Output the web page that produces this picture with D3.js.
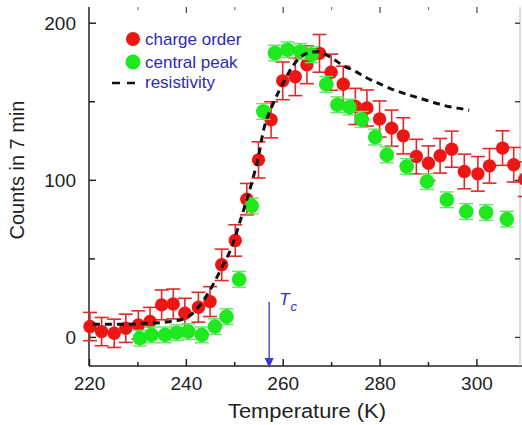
<!DOCTYPE html>
<html>
<head>
<meta charset="utf-8">
<script src="https://cdn.jsdelivr.net/npm/d3@7"></script>
<style>
  html, body { margin: 0; padding: 0; background: #fff; }
  svg { display: block; }
  text { font-family: "Liberation Sans", Arial, Helvetica, sans-serif; }
</style>
</head>
<body>
<svg id="chart" width="522" height="425"></svg>
<script>
// ---- data ----
const chargeT   = [220.2,222.6,225.2,227.6,230.2,232.6,235.0,237.4,239.8,242.6,245.0,247.4,250.2,252.6,255.0,257.6,260.0,262.6,265.0,267.6,270.0,272.5,275.0,277.4,280.0,282.5,284.9,287.6,290.1,292.5,294.9,297.5,300.3,302.7,305.4,307.7,310.0];
const chargeV   = [6.6,3.4,2.3,5.5,7.6,9.8,20.4,21,15.1,18.9,22.5,45.9,61.4,87.7,112.7,138.2,163,165.6,173.2,180.5,168.5,160.8,146.7,145.7,138.7,132.9,128,114.8,110.6,115.3,119.5,105.3,103.8,108.9,120.2,109.6,100.4];
const chargeErr = [9,9,9,9,9,9,9.5,9.5,9.5,9.5,9.5,10,10,10,11.5,11.5,12,12,12,12,11.5,11.5,11.5,11.5,11.5,11.5,11.5,11,11,11,11.5,11,11,11,11,11,11];

const centralT   = [230.5,232.9,235.7,238.1,240.5,243.3,246.0,248.4,251.0,253.6,256.0,258.4,261.0,263.6,266.0,269.0,271.3,273.8,276.3,279.1,281.5,285.6,289.8,293.9,297.9,302.0,306.3];
const centralV   = [-0.8,1.3,1.3,2.7,3.4,1.3,6.6,12.9,36.7,83.4,143.5,180.7,182.8,181.7,179.6,160.8,147.8,146.3,138.5,127.2,115.9,108.5,98.9,87.3,79.8,79.2,75];
const centralErr = 5;

const resistT = [220.8,226,231,236,240,242.6,245,247.4,249.5,251.5,253.6,255,256,258.1,260.1,262.2,264.6,267,269.8,272.2,275,277.4,280.5,282.9,286,288.7,291.5,294.2,297.3,298.5];
const resistV = [8,8,8.5,9.5,12,19,30,44,57.5,76.6,98,115,131,149,161.6,173,180,181.5,178.2,173.2,169,164.8,160.5,157.3,154.1,151.6,148.9,146.7,145,144.3];

const xMajor = [220,240,260,280,300];
const xMinor = [230,250,270,290];
const yMajor = [0,100,200];
const yMinor = [50,150];
const legendLabels = ["charge order","central peak","resistivity"];
const Tc = 257.2;
const xTitle = "Temperature (K)";
const yTitle = "Counts in 7 min";

// ---- scales ----
const svg = d3.select("#chart");
const x = d3.scaleLinear().domain([220, 309]).range([89, 520]);
const y = d3.scaleLinear().domain([-18.5, 210]).range([366, 7]);
const axisColor = "#222";
const red = "#ee1515", redBar = "#e02a2a", green = "#1ee81e", legendBlue = "#2b2bb8";

// ---- axes ----
const g = svg.append("g");
g.append("line").attr("x1", x(220)).attr("x2", 522).attr("y1", y(-18.5)).attr("y2", y(-18.5))
  .attr("stroke", axisColor).attr("stroke-width", 1.5);
g.append("line").attr("x1", x(220)).attr("x2", x(220)).attr("y1", y(210)).attr("y2", y(-18.5))
  .attr("stroke", axisColor).attr("stroke-width", 1.5);
g.append("line").attr("x1", x(309)).attr("x2", x(309)).attr("y1", y(210)).attr("y2", y(-18.5))
  .attr("stroke", "#bbb").attr("stroke-width", 1);

const bottomAxis = d3.axisBottom(x).tickValues(xMajor).tickSize(-7).tickPadding(11).tickFormat(d3.format("d"));
const bAx = svg.append("g").attr("transform", `translate(0,${y(-18.5)})`).call(bottomAxis);
bAx.select(".domain").remove();
bAx.selectAll("line").attr("stroke", axisColor).attr("stroke-width", 1.5);
bAx.selectAll("text").attr("font-size", 19).attr("fill", "#222").attr("font-family", "Liberation Sans, Arial, sans-serif");

const bMin = d3.axisBottom(x).tickValues(xMinor).tickSize(-4).tickFormat("");
const bmAx = svg.append("g").attr("transform", `translate(0,${y(-18.5)})`).call(bMin);
bmAx.select(".domain").remove();
bmAx.selectAll("line").attr("stroke", axisColor).attr("stroke-width", 1.5);

const tAx = svg.append("g").attr("transform", `translate(0,${y(210)})`)
  .call(d3.axisTop(x).tickValues(xMajor.filter(d => d > 220)).tickSize(-6).tickFormat(""));
tAx.select(".domain").remove();
tAx.selectAll("line").attr("stroke", "#555").attr("stroke-width", 1.3);
const tmAx = svg.append("g").attr("transform", `translate(0,${y(210)})`)
  .call(d3.axisTop(x).tickValues(xMinor).tickSize(-3).tickFormat(""));
tmAx.select(".domain").remove();
tmAx.selectAll("line").attr("stroke", "#777").attr("stroke-width", 1.2);

const lAx = svg.append("g").attr("transform", `translate(${x(220)},0)`)
  .call(d3.axisLeft(y).tickValues(yMajor).tickSize(-7).tickPadding(13).tickFormat(d3.format("d")));
lAx.select(".domain").remove();
lAx.selectAll("line").attr("stroke", axisColor).attr("stroke-width", 1.5);
lAx.selectAll("text").attr("font-size", 19).attr("fill", "#222").attr("font-family", "Liberation Sans, Arial, sans-serif").attr("dy", "0.36em");
const lmAx = svg.append("g").attr("transform", `translate(${x(220)},0)`)
  .call(d3.axisLeft(y).tickValues(yMinor).tickSize(-6).tickFormat(""));
lmAx.select(".domain").remove();
lmAx.selectAll("line").attr("stroke", axisColor).attr("stroke-width", 1.5);

const rAx = svg.append("g").attr("transform", `translate(${x(309)},0)`)
  .call(d3.axisRight(y).tickValues([0,50,100,150,200]).tickSize(-5).tickFormat(""));
rAx.select(".domain").remove();
rAx.selectAll("line").attr("stroke", "#333").attr("stroke-width", 1.3);

svg.append("text").attr("x", 307).attr("y", 418).attr("text-anchor", "middle")
  .attr("font-size", 20).attr("fill", "#222").attr("textLength", 158).attr("lengthAdjust", "spacingAndGlyphs").text(xTitle);
svg.append("text").attr("transform", "translate(24,170) rotate(-90)").attr("text-anchor", "middle")
  .attr("font-size", 20).attr("fill", "#222").text(yTitle);

// ---- data marks ----
const chargeData = chargeT.map((t, i) => ({t, v: chargeV[i], e: chargeErr[i]}));
const centralData = centralT.map((t, i) => ({t, v: centralV[i], e: centralErr}));

function errorBars(data, color, capW, sw) {
  const eg = svg.append("g").attr("stroke", color).attr("stroke-width", sw).attr("fill", "none");
  eg.selectAll(".v").data(data).join("line")
    .attr("x1", d => x(d.t)).attr("x2", d => x(d.t))
    .attr("y1", d => y(d.v - d.e)).attr("y2", d => y(d.v + d.e));
  eg.selectAll(".t").data(data).join("line")
    .attr("x1", d => x(d.t) - capW).attr("x2", d => x(d.t) + capW)
    .attr("y1", d => y(d.v + d.e)).attr("y2", d => y(d.v + d.e));
  eg.selectAll(".b").data(data).join("line")
    .attr("x1", d => x(d.t) - capW).attr("x2", d => x(d.t) + capW)
    .attr("y1", d => y(d.v - d.e)).attr("y2", d => y(d.v - d.e));
}

errorBars(chargeData, redBar, 7, 1.6);
svg.append("g").selectAll("circle").data(chargeData).join("circle")
  .attr("cx", d => x(d.t)).attr("cy", d => y(d.v)).attr("r", 6.7).attr("fill", red);

errorBars(centralData, "#5ee85e", 7, 1.4);
svg.append("g").selectAll("circle").data(centralData).join("circle")
  .attr("cx", d => x(d.t)).attr("cy", d => y(d.v)).attr("r", 7.3).attr("fill", green);

const resData = resistT.map((t, i) => ({t, v: resistV[i]}));
svg.append("path").datum(resData)
  .attr("d", d3.line().x(d => x(d.t)).y(d => y(d.v)).curve(d3.curveMonotoneX))
  .attr("fill", "none").attr("stroke", "#111").attr("stroke-width", 3).attr("stroke-dasharray", "7,5");

// ---- legend ----
const lg = svg.append("g");
lg.append("circle").attr("cx", 133).attr("cy", 39).attr("r", 7).attr("fill", red);
lg.append("circle").attr("cx", 133).attr("cy", 62).attr("r", 7.5).attr("fill", green);
lg.append("line").attr("x1", 112).attr("x2", 136).attr("y1", 83).attr("y2", 83)
  .attr("stroke", "#111").attr("stroke-width", 2.5).attr("stroke-dasharray", "8,7");
legendLabels.forEach((lab, i) => {
  lg.append("text").attr("x", 145).attr("y", [45, 68, 88][i]).attr("font-size", 17)
    .attr("fill", legendBlue).text(lab);
});

// ---- Tc arrow ----
const tcx = x(Tc);
svg.append("line").attr("x1", tcx).attr("x2", tcx).attr("y1", 302).attr("y2", 360)
  .attr("stroke", "#5252c8").attr("stroke-width", 1.5);
svg.append("path").attr("d", `M${tcx-4.5},358 L${tcx+4.5},358 L${tcx},368 Z`).attr("fill", "#3a3ac8");
const tcText = svg.append("text").attr("x", tcx + 10).attr("y", 305)
  .attr("font-family", "Liberation Serif, Times New Roman, serif").attr("font-style", "italic")
  .attr("font-size", 17).attr("fill", "#3030c0");
tcText.append("tspan").text("T");
tcText.append("tspan").attr("dy", 6).attr("dx", 1).attr("font-size", 13).text("c");
</script>
</body>
</html>
